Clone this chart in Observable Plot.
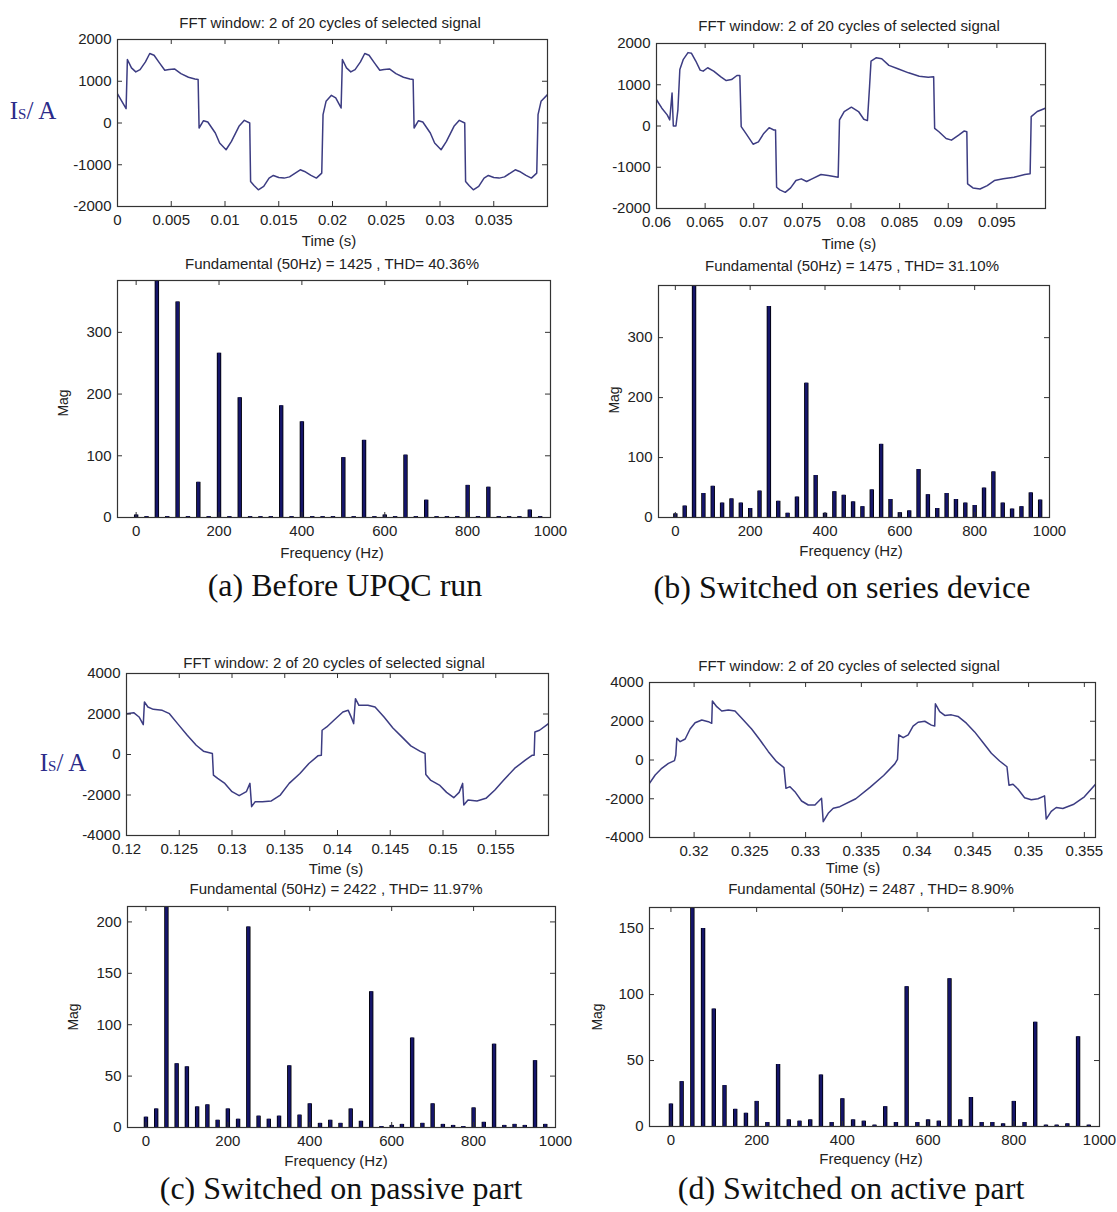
<!DOCTYPE html>
<html><head><meta charset="utf-8">
<script src="https://cdn.jsdelivr.net/npm/d3@7"></script>
<script src="https://cdn.jsdelivr.net/npm/@observablehq/plot@0.6"></script>
<style>
body{margin:0;background:#fff;}
#page{position:relative;width:1117px;height:1212px;overflow:hidden;background:#fff;font-family:"Liberation Sans",Arial,sans-serif;}
.t{position:absolute;transform:translate(-50%,-50%);white-space:nowrap;color:#222;font-size:15px;line-height:1;}
.cap{font-family:"Liberation Serif",serif;font-size:32px;color:#111;}
.isa{font-family:"Liberation Serif",serif;font-size:25px;color:#2b2b8a;}
.mag{transform:translate(-50%,-50%) rotate(-90deg);font-size:14px;}
</style></head><body><div id="page"></div>
<script>
// ---------- time-domain signals ----------
const tA = [0,0.0008,0.00092,0.0013,0.0017,0.0021,0.0026,0.0030,0.0034,0.0039,0.0044,0.0048,0.0053,0.0059,0.0066,0.0072,0.0075,0.00759,0.0080,0.0084,0.0091,0.0095,0.0101,0.0106,0.0113,0.0118,0.0123,0.01238,0.0127,0.0131,0.0136,0.0141,0.0145,0.0150,0.0155,0.0160,0.0170,0.0174,0.0180,0.0185,0.0190,0.01912,0.0194,0.0199,0.0203,0.0208,0.02092,0.0213,0.0217,0.0221,0.0226,0.0230,0.0234,0.0239,0.0244,0.0248,0.0253,0.0259,0.0266,0.0272,0.0275,0.02759,0.0280,0.0284,0.0291,0.0295,0.0301,0.0306,0.0313,0.0318,0.0323,0.03238,0.0327,0.0331,0.0336,0.0341,0.0345,0.0350,0.0355,0.0360,0.0370,0.0374,0.0380,0.0385,0.0390,0.03912,0.0394,0.0400];
const iA = [696,344,1520,1320,1224,1280,1464,1664,1624,1440,1264,1280,1296,1184,1096,1056,1040,-120,56,24,-240,-480,-640,-440,-80,64,0,-1400,-1496,-1600,-1520,-1320,-1256,-1304,-1320,-1290,-1120,-1160,-1256,-1320,-1200,200,520,664,600,360,1520,1320,1224,1280,1464,1664,1624,1440,1264,1280,1296,1184,1096,1056,1040,-120,56,24,-240,-480,-640,-440,-80,64,0,-1400,-1496,-1600,-1520,-1320,-1256,-1304,-1320,-1290,-1120,-1160,-1256,-1320,-1200,200,520,680];

const tB = [0.06,0.06055,0.0611,0.06136,0.0616,0.06173,0.0620,0.0622,0.0624,0.06276,0.06324,0.0636,0.06404,0.06449,0.0648,0.06526,0.06588,0.06662,0.06717,0.06772,0.06827,0.06857,0.06871,0.06919,0.06993,0.07048,0.07103,0.07158,0.07206,0.07224,0.07235,0.07268,0.07324,0.07379,0.07434,0.07489,0.07544,0.07599,0.07691,0.07765,0.07868,0.07882,0.0793,0.08004,0.08077,0.08132,0.08169,0.08191,0.08206,0.08261,0.08316,0.0839,0.08482,0.08592,0.08702,0.08794,0.0885,0.0886,0.08904,0.08978,0.09033,0.09107,0.09162,0.09191,0.09199,0.09254,0.09327,0.09401,0.09474,0.09566,0.09676,0.09787,0.09842,0.09853,0.09915,0.1];
const iB = [636,432,270,147,800,0,0,392,1371,1616,1779,1763,1575,1355,1330,1412,1330,1191,1102,1126,1224,1224,-16,-180,-441,-384,-180,-41,-98,-98,-1485,-1550,-1608,-1501,-1322,-1281,-1346,-1281,-1175,-1200,-1240,147,351,457,351,163,131,963,1575,1657,1632,1469,1387,1289,1208,1183,1191,-57,-139,-302,-343,-220,-122,-139,-1404,-1501,-1526,-1444,-1322,-1281,-1240,-1175,-1159,228,351,432];

const tC = [0.12,0.12068,0.12119,0.12159,0.1217,0.12203,0.12254,0.12339,0.12407,0.12492,0.12576,0.12661,0.12729,0.12814,0.12824,0.12864,0.12932,0.13,0.13068,0.13136,0.1317,0.13186,0.1322,0.13288,0.13373,0.13458,0.13542,0.13644,0.13729,0.13814,0.13847,0.13854,0.13898,0.13966,0.14051,0.14102,0.14136,0.14153,0.1417,0.14203,0.14288,0.14356,0.14441,0.14525,0.1461,0.14695,0.1478,0.1483,0.14837,0.14881,0.14966,0.15034,0.15102,0.15153,0.15186,0.15197,0.15237,0.15322,0.15407,0.15492,0.15576,0.15678,0.1578,0.15847,0.15864,0.15871,0.15915,0.16];
const iC = [2017,2066,1853,1476,2591,2345,2230,2181,2017,1476,951,459,164,49,-1017,-1181,-1427,-1837,-2034,-1837,-1427,-2575,-2329,-2329,-2296,-2001,-1427,-935,-443,-66,-33,1197,1361,1689,2099,2181,1771,1525,2755,2427,2427,2345,1853,1312,869,426,164,49,-984,-1263,-1509,-1870,-2132,-1870,-1427,-2493,-2247,-2296,-2165,-1755,-1263,-689,-279,-33,-33,1115,1197,1525];

const tD = [0.316,0.31651,0.3171,0.3177,0.31824,0.31836,0.31845,0.31875,0.3192,0.31964,0.32009,0.32069,0.32128,0.32158,0.32164,0.32203,0.32248,0.32307,0.32367,0.32442,0.32516,0.32591,0.32666,0.3274,0.32806,0.32824,0.3286,0.32904,0.32964,0.33024,0.33084,0.33143,0.33158,0.33203,0.33248,0.33307,0.3345,0.3358,0.3370,0.3380,0.33824,0.33836,0.33875,0.3392,0.33964,0.34009,0.34069,0.34128,0.34158,0.34164,0.34203,0.34248,0.34307,0.34367,0.34442,0.34516,0.34591,0.34666,0.3474,0.34806,0.34824,0.3486,0.34904,0.34964,0.35024,0.35084,0.35143,0.35158,0.35203,0.35248,0.35307,0.3540,0.3550,0.356];
const iD = [-1204,-774,-430,-172,-34,258,1118,946,1084,1600,1926,2064,1978,1892,3044,2752,2528,2580,2528,2064,1600,1032,430,-86,-396,-1462,-1376,-1634,-2116,-2322,-2322,-1978,-3182,-2752,-2494,-2408,-2000,-1400,-800,-200,30,1300,1150,1300,1750,1950,2000,1800,1750,2900,2500,2300,2330,2250,1900,1450,900,350,-50,-350,-1300,-1250,-1500,-1950,-2050,-2000,-1850,-3050,-2650,-2450,-2500,-2300,-1900,-1250];

// ---------- FFT spectra ----------
const freq = [0,25,50,75,100,125,150,175,200,225,250,275,300,325,350,375,400,425,450,475,500,525,550,575,600,625,650,675,700,725,750,775,800,825,850,875,900,925,950,975];
const magA = [4,1.5,1425,1.5,349,1.5,57,1.5,266,1.5,194,1.5,1.5,1.5,181,1.5,155,1.5,1.5,1.5,97,1.5,125,1.5,4,1.5,101,1.5,28,1.5,1.5,1.5,52,1.5,49,1.5,1.5,1.5,12,1.5];
const magB = [6,19,1475,40,52,24,31,24,15,44,352,27,7,34,224,70,7,43,37,26,18,46,122,30,8,11,80,38,15,40,30,24,20,49,76,24,14,18,41,29];
const magC = [10,18,2422,62,59,20,22,7,18,8,195,11,8,11,60,12,23,4,7,4,18,6,132,1,2,3,87,4,23,3,2,1,19,5,81,2,3,2,65,3];
const magD = [17,34,2487,150,89,31,13,10,19,3,47,5,4,5,39,3,21,5,4,1,15,3,106,3,5,4,112,5,22,3,3,2,19,3,79,1,1,2,68,1];

// ---------- tick values & labels ----------
const ticksTA = [0,0.005,0.01,0.015,0.02,0.025,0.03,0.035];
const ticksTB = [0.06,0.065,0.07,0.075,0.08,0.085,0.09,0.095];
const ticksTC = [0.12,0.125,0.13,0.135,0.14,0.145,0.15,0.155];
const ticksTD = [0.32,0.325,0.33,0.335,0.34,0.345,0.35,0.355];
const ticksI2k = [-2000,-1000,0,1000,2000];
const ticksI4k = [-4000,-2000,0,2000,4000];
const ticksF = [0,200,400,600,800,1000];
const ticksM100 = [0,100,200,300];
const ticksMC = [0,50,100,150,200];
const ticksMD = [0,50,100,150];

const fftTitle = "FFT window: 2 of 20 cycles of selected signal";
const fundA = "Fundamental (50Hz) = 1425 , THD= 40.36%";
const fundB = "Fundamental (50Hz) = 1475 , THD= 31.10%";
const fundC = "Fundamental (50Hz) = 2422 , THD= 11.97%";
const fundD = "Fundamental (50Hz) = 2487 , THD= 8.90%";
const captions = ["(a) Before UPQC run","(b) Switched on series device","(c) Switched on passive part","(d) Switched on active part"];

// ---------- drawing ----------
const page = document.getElementById("page");
const fmt = d => String(+d.toFixed(4));
const ML = 60, MR = 28, MT = 8, MB = 30;
const baseStyle = {fontFamily: "'Liberation Sans', Arial, sans-serif", fontSize: "15px", color: "#222", background: "transparent", overflow: "visible"};

function put(svg, L, T) {
  svg.style.position = "absolute";
  svg.style.left = (L - ML) + "px";
  svg.style.top = (T - MT) + "px";
  page.appendChild(svg);
}
function txt(s, x, y, cls) {
  const d = document.createElement("div");
  d.className = "t" + (cls ? " " + cls : "");
  d.style.left = x + "px"; d.style.top = y + "px";
  d.innerHTML = s;
  page.appendChild(d);
}
function frameMarks(w, h, xt, yt, xfmt) {
  return [
    Plot.axisX(xt, {anchor: "bottom", tickSize: 0, tickPadding: 8, tickFormat: xfmt, label: null}),
    Plot.axisY(yt, {anchor: "left", tickSize: 0, tickPadding: 6, tickFormat: d => String(d), label: null}),
    Plot.tickX(xt, {x: d => d, insetTop: h - 5, stroke: "#333"}),
    Plot.tickX(xt, {x: d => d, insetBottom: h - 5, stroke: "#333"}),
    Plot.tickY(yt, {y: d => d, insetRight: w - 5, stroke: "#333"}),
    Plot.tickY(yt, {y: d => d, insetLeft: w - 5, stroke: "#333"}),
    Plot.frame({stroke: "#333", strokeWidth: 1.2})
  ];
}
function timePlot(L, T, R, B, t, v, xdom, ydom, xt, yt) {
  const w = R - L, h = B - T;
  const data = t.map((d, i) => ({t: d, v: v[i]}));
  const svg = Plot.plot({
    width: w + ML + MR, height: h + MT + MB,
    marginLeft: ML, marginRight: MR, marginTop: MT, marginBottom: MB,
    style: baseStyle,
    x: {domain: xdom, label: null}, y: {domain: ydom, label: null},
    marks: [
      Plot.line(data, {x: "t", y: "v", stroke: "#3c3c82", strokeWidth: 1.5, clip: true}),
      ...frameMarks(w, h, xt, yt, fmt)
    ]
  });
  put(svg, L, T);
}
function fftPlot(L, T, R, B, mag, xdom, ymax, yt) {
  const w = R - L, h = B - T;
  const data = freq.map((f, i) => ({f, m: mag[i]}));
  const svg = Plot.plot({
    width: w + ML + MR, height: h + MT + MB,
    marginLeft: ML, marginRight: MR, marginTop: MT, marginBottom: MB,
    style: baseStyle,
    x: {domain: xdom, label: null}, y: {domain: [0, ymax], label: null},
    marks: [
      Plot.ruleX(data, {x: "f", y1: 0, y2: "m", stroke: "#000", strokeWidth: 4.4, clip: true}),
      Plot.ruleX(data, {x: "f", y1: 0, y2: "m", stroke: "#15156a", strokeWidth: 2.8, clip: true}),
      ...frameMarks(w, h, ticksF, yt, d => String(d))
    ]
  });
  put(svg, L, T);
}

// (a)
timePlot(117, 39, 547, 206, tA, iA, [0, 0.04], [-2000, 2000], ticksTA, ticksI2k);
fftPlot(117, 280, 550, 517, magA, [-45, 1000], 384, ticksM100);
// (b)
timePlot(656, 43, 1045, 208, tB, iB, [0.06, 0.1], [-2000, 2000], ticksTB, ticksI2k);
fftPlot(658, 285, 1049, 517, magB, [-45, 1000], 387, ticksM100);
// (c)
timePlot(126, 673, 548, 835, tC, iC, [0.12, 0.16], [-4000, 4000], ticksTC, ticksI4k);
fftPlot(127, 906, 555, 1127, magC, [-45, 1000], 215, ticksMC);
// (d)
timePlot(649, 682, 1095, 837, tD, iD, [0.316, 0.356], [-4000, 4000], ticksTD, ticksI4k);
fftPlot(649, 907, 1099, 1126, magD, [-50, 1000], 166, ticksMD);

// texts
txt(fftTitle, 330, 22); txt("Time (s)", 329, 240); txt(fundA, 332, 263);
txt("Mag", 63, 403, "mag"); txt("Frequency (Hz)", 332, 552); txt(captions[0], 345, 585, "cap");
txt('I<span style="font-size:15px">S</span>/ A', 33, 110, "isa");

txt(fftTitle, 849, 25); txt("Time (s)", 849, 243); txt(fundB, 852, 265);
txt("Mag", 614, 400, "mag"); txt("Frequency (Hz)", 851, 550); txt(captions[1], 842, 587, "cap");

txt(fftTitle, 334, 662); txt("Time (s)", 336, 868); txt(fundC, 336, 888);
txt("Mag", 73, 1017, "mag"); txt("Frequency (Hz)", 336, 1160); txt(captions[2], 341, 1188, "cap");
txt('I<span style="font-size:15px">S</span>/ A', 63, 762, "isa");

txt(fftTitle, 849, 665); txt("Time (s)", 853, 867); txt(fundD, 871, 888);
txt("Mag", 597, 1017, "mag"); txt("Frequency (Hz)", 871, 1158); txt(captions[3], 851, 1188, "cap");
</script>
</body></html>
